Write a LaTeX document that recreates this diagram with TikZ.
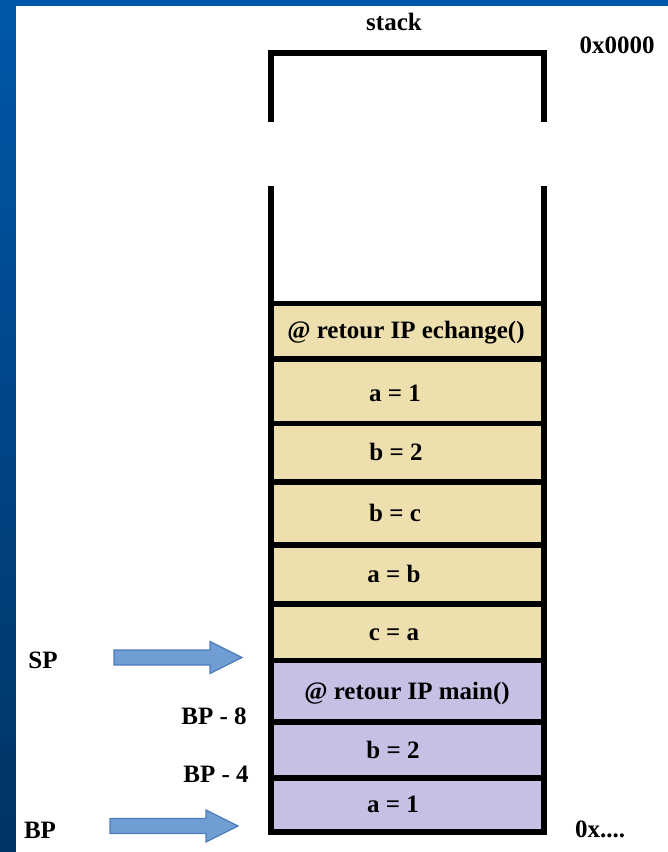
\documentclass[tikz,border=0pt]{standalone}
\usepackage{fontspec}
\setmainfont{Liberation Serif}
\definecolor{frameTop}{RGB}{0,87,170}
\definecolor{frameBot}{RGB}{0,52,100}
\definecolor{cellYellow}{RGB}{237,224,174}
\definecolor{cellPurple}{RGB}{200,192,228}
\definecolor{arrowFill}{RGB}{112,158,212}
\definecolor{arrowEdge}{RGB}{78,124,184}
\tikzset{
  lbl/.style={font=\fontsize{25}{28}\selectfont\bfseries, inner sep=0pt},
  cellbl/.style={lbl, anchor=base},
  cellbox/.style={draw=black, line width=5.5pt, minimum width=272.7pt, inner sep=0pt},
  yellowcell/.style={cellbox, fill=cellYellow},
  purplecell/.style={cellbox, fill=cellPurple},
  wall/.style={line width=6pt, line join=miter},
  blockarrow/.style={fill=arrowFill, draw=arrowEdge, line width=1.2pt, line join=miter}
}
\begin{document}
\begin{tikzpicture}[x=1pt,y=-1pt]
  \useasboundingbox (0,0) rectangle (668,852);
  % slide frame and white page
  \shade[top color=frameTop, bottom color=frameBot] (0,0) rectangle (668,852);
  \fill[white] (16,6) rectangle (668,852);

  % top part of the stack (low addresses)
  \draw[wall] (271,122) -- (271,53) -- (543.7,53) -- (543.7,122);

  % stack cells, from top (low address) to bottom (high address)
  \node[yellowcell, minimum height=55.5pt] (c1) at (407.35,331.25) {};
  \node[yellowcell, minimum height=64.5pt] (c2) at (407.35,391.25) {};
  \node[yellowcell, minimum height=58.5pt] (c3) at (407.35,452.75) {};
  \node[yellowcell, minimum height=63pt]   (c4) at (407.35,513.5)  {};
  \node[yellowcell, minimum height=59pt]   (c5) at (407.35,574.5)  {};
  \node[yellowcell, minimum height=56.5pt] (c6) at (407.35,632.25) {};
  \node[purplecell, minimum height=61.5pt] (c7) at (407.35,691.25) {};
  \node[purplecell, minimum height=56pt]   (c8) at (407.35,750)    {};
  \node[purplecell, minimum height=54pt]   (c9) at (407.35,805)    {};

  % cell contents
  \node[cellbl] (t1) at (406,338)   {@ retour IP echange()};
  \node[cellbl] (t2) at (395,401)   {a = 1};
  \node[cellbl] (t3) at (396,460)   {b = 2};
  \node[cellbl] (t4) at (395,521.5) {b = c};
  \node[cellbl] (t5) at (394,582.5) {a = b};
  \node[cellbl] (t6) at (394,640)   {c = a};
  \node[cellbl] (t7) at (407,699)   {@ retour IP main()};
  \node[cellbl] (t8) at (393,758)   {b = 2};
  \node[cellbl] (t9) at (393,812)   {a = 1};

  % side walls of the lower part
  \draw[wall] (271,186) -- (271,834.5);
  \draw[wall] (543.7,186) -- (543.7,834.5);
  \draw[line width=5.5pt] (268,832) -- (546.7,832);

  % labels
  \node[lbl] (title) at (394,22) {stack};
  \node[lbl] (lowaddr) at (617,45) {0x0000};
  \node[lbl] (highaddr) at (600,829) {0x....};
  \node[lbl] (sp) at (43,660) {SP};
  \node[lbl] (bp) at (40,830) {BP};
  \node[lbl] (bp8) at (214,716) {BP - 8};
  \node[lbl] (bp4) at (216,774) {BP - 4};

  % block arrows for the stack pointer and base pointer
  \coordinate (spTip) at (242,657.5);
  \coordinate (bpTip) at (238,826);
  \draw[blockarrow] (spTip) -- ++(-32,-16) -- ++(0,8.5) -- ++(-96,0) -- ++(0,15)
        -- ++(96,0) -- ++(0,8.5) -- cycle;
  \draw[blockarrow] (bpTip) -- ++(-32,-16) -- ++(0,8.5) -- ++(-96,0) -- ++(0,15)
        -- ++(96,0) -- ++(0,8.5) -- cycle;
\end{tikzpicture}
\end{document}
